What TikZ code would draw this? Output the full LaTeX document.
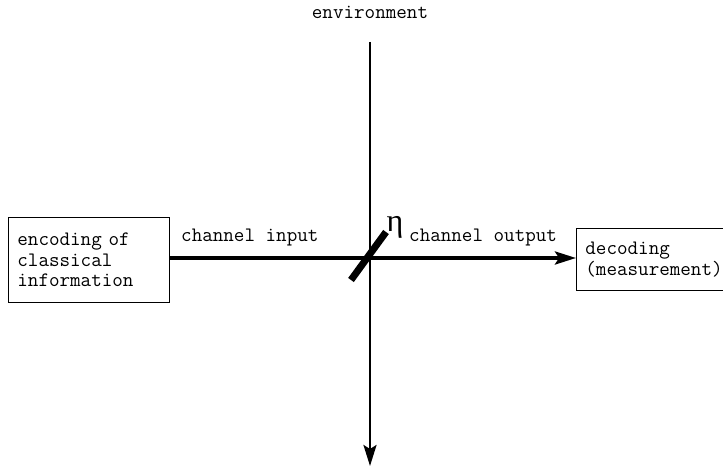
\documentclass[tikz,border=0pt]{standalone}
\usepackage{fontspec}
\newfontfamily\etafont{Liberation Serif}
\usetikzlibrary{arrows.meta}
\begin{document}
\begin{tikzpicture}[x=1pt,y=-1pt,
  lbl/.style={font=\ttfamily\fontsize{20.5}{20.5}\selectfont, inner sep=0pt},
  boxnode/.style={draw, line width=0.8pt, font=\ttfamily\fontsize{20.5}{20.5}\selectfont, align=left, inner xsep=9pt, inner ysep=0pt},
  tip/.style={-{Stealth[length=21pt,width=13pt,inset=4pt]}},
  beam/.style={line width=3.5pt, tip},
  vbeam/.style={line width=2.6pt, tip}]
\useasboundingbox (0,0) rectangle (723,468);
\node[boxnode, minimum width=161pt, minimum height=85pt, text width=143pt, anchor=north west] (enc) at (8,217) {encoding of\\classical\\information};
\node[boxnode, minimum width=162pt, minimum height=62pt, text width=144pt, anchor=north west] (dec) at (576,228) {decoding\\(measurement)};
\coordinate (x) at (370,258);
\coordinate (top) at (370,42);
\coordinate (bot) at (370,466);
\node[lbl] (env) at (370,12) {environment};
\node[lbl, anchor=west] (cin) at (181,238) {channel input};
\node[lbl, anchor=west] (cout) at (409,238) {channel output};
\node[inner sep=0pt, font=\etafont\fontsize{32}{32}\selectfont] (eta) at (395,227) {η};
\draw[vbeam] (top) -- (bot);
\draw[beam] (enc.east |- x) -- (dec.west |- x);
\draw[line width=7pt] (351,280) -- (386,232);
\end{tikzpicture}
\end{document}
